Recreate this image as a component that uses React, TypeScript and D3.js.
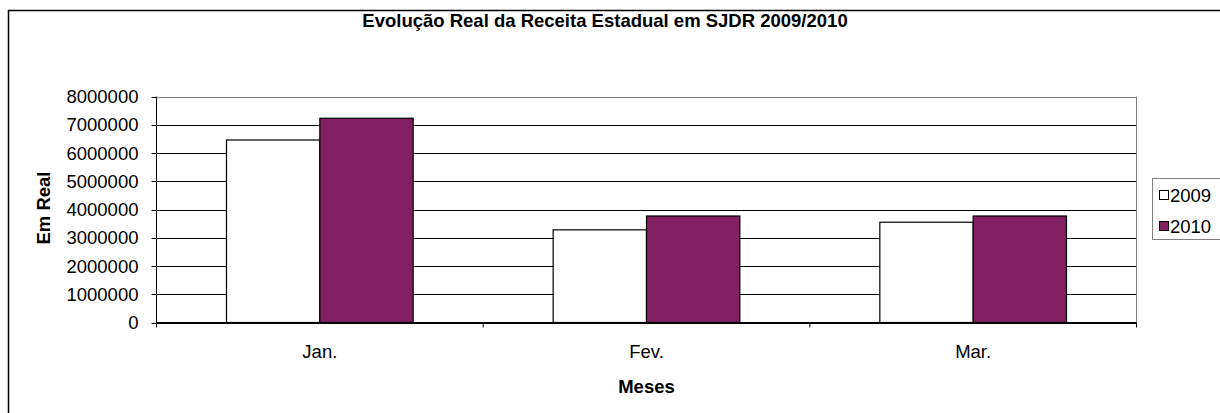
import React from 'react';
import * as d3 from 'd3';

// data
const months = ['Jan.', 'Fev.', 'Mar.'];
const years = ['2009', '2010'];
const values2009 = [6460000, 3280000, 3550000];
const values2010 = [7230000, 3770000, 3770000];
const yTicks = [0, 1000000, 2000000, 3000000, 4000000, 5000000, 6000000, 7000000, 8000000];

const colors = ['#ffffff', '#822061'];

const W = 1220;
const H = 413;
const plot = { left: 156.5, right: 1136.5, top: 96.5, bottom: 322.5 };
const font = '"Liberation Sans", Arial, sans-serif';

export default function App() {
  const x = d3.scaleBand<string>().domain(months).range([plot.left, plot.right]);
  const y = d3.scaleLinear().domain([0, 8000000]).range([plot.bottom, plot.top]);
  const band = x.bandwidth();
  // excel style gap width 150%
  const barW = band / (years.length + 1.5);
  const offset = barW * 0.75;
  const series = [values2009, values2010];

  return (
    <svg width={W} height={H} style={{ position: 'absolute', left: 0, top: 0, background: '#fff' }}>
      {/* outer chart border, runs off the picture on the right and bottom */}
      <rect x={8.5} y={10.5} width={1240} height={430} fill="#fff" stroke="#000" strokeWidth={1.5} />

      <text x={605} y={27} textAnchor="middle" fontFamily={font} fontSize={18.5} fontWeight="bold">
        Evolução Real da Receita Estadual em SJDR 2009/2010
      </text>

      {/* gridlines */}
      {yTicks.map((t) => (
        <line key={t} x1={plot.left} x2={plot.right} y1={Math.round(y(t)) + 0.5} y2={Math.round(y(t)) + 0.5}
          stroke={t === 8000000 ? '#808080' : '#000'} strokeWidth={1} />
      ))}
      <line x1={plot.right} x2={plot.right} y1={plot.top} y2={plot.bottom} stroke="#808080" />

      {/* bars */}
      {series.map((vals, si) =>
        vals.map((v, i) => (
          <rect key={si + '-' + i}
            x={(x(months[i]) as number) + offset + si * barW}
            y={y(v)}
            width={barW}
            height={plot.bottom - y(v)}
            fill={colors[si]} stroke="#000" strokeWidth={1.2} />
        ))
      )}

      {/* axes */}
      <line x1={plot.left} x2={plot.left} y1={plot.top} y2={plot.bottom} stroke="#000" />
      <line x1={plot.left} x2={plot.right} y1={plot.bottom} y2={plot.bottom} stroke="#000" />
      {yTicks.map((t) => (
        <g key={'yt' + t}>
          <line x1={plot.left - 5} x2={plot.left} y1={Math.round(y(t)) + 0.5} y2={Math.round(y(t)) + 0.5} stroke="#000" />
          <text x={138.5} y={y(t)} dy="0.36em" textAnchor="end" fontFamily={font} fontSize={18.5}>{t}</text>
        </g>
      ))}
      {[...months.map((m) => x(m) as number), plot.right].map((p, i) => (
        <line key={'xt' + i} x1={p} x2={p} y1={plot.bottom} y2={plot.bottom + 5} stroke="#000" />
      ))}
      {months.map((m) => (
        <text key={m} x={(x(m) as number) + band / 2} y={358} textAnchor="middle" fontFamily={font} fontSize={18.5}>{m}</text>
      ))}

      <text x={646.5} y={392.5} textAnchor="middle" fontFamily={font} fontSize={18.5} fontWeight="bold">Meses</text>
      <text transform="translate(49.5,208) rotate(-90)" textAnchor="middle" fontFamily={font} fontSize={18.5} fontWeight="bold">Em Real</text>

      {/* legend */}
      <rect x={1152.5} y={178.5} width={120} height={61} fill="#fff" stroke="#808080" />
      {years.map((yr, i) => (
        <g key={yr} transform={`translate(0,${195 + i * 31})`}>
          <rect x={1159.5} y={-4.5} width={9} height={9} fill={colors[i]} stroke="#000" />
          <text x={1170} y={0} dy="0.36em" fontFamily={font} fontSize={18.5}>{yr}</text>
        </g>
      ))}
    </svg>
  );
}
